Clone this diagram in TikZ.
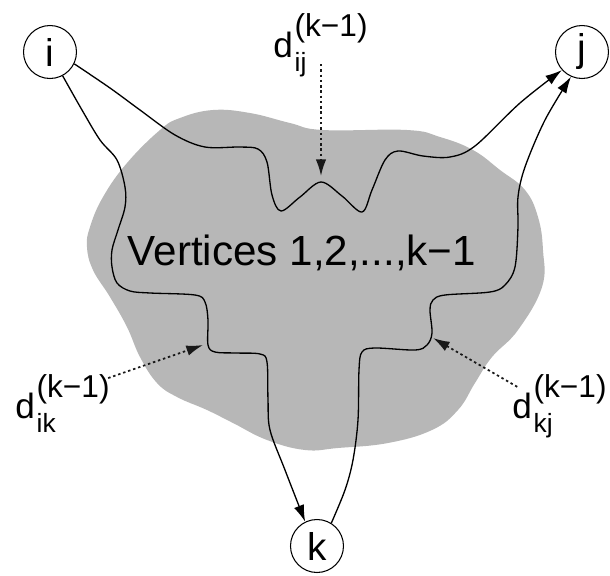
\documentclass[tikz,border=0pt]{standalone}
\usepackage{fontspec}
\setmainfont{Liberation Sans}
\usetikzlibrary{arrows.meta}
\definecolor{cloudgray}{RGB}{183,183,183}
\newcommand{\supsize}{\fontsize{18}{18}\selectfont}
\newcommand{\subsize}{\fontsize{15}{15}\selectfont}
\newcommand{\dlabel}[1]{d\kern1pt\rlap{\raisebox{-8pt}{\subsize #1}}\raisebox{11.5pt}{\supsize(k−1)}}

\begin{document}
\begin{tikzpicture}[x=0.02cm, y=-0.02cm, >={Latex[length=9.5pt,width=6pt]},
  vertex/.style={draw, circle, line width=0.6pt, minimum size=1.06cm, inner sep=0pt, font=\fontsize{22}{22}\selectfont},
  route/.style={->, line width=0.75pt},
  hint/.style={->, line width=1pt, dash pattern=on 1.4pt off 1.6pt, black!90},
  dist/.style={inner sep=0pt, anchor=base west, font=\fontsize{20}{24}\selectfont}]
  \useasboundingbox (0,0) rectangle (610,576);
  \fill[cloudgray] plot[smooth cycle, tension=0.7] coordinates {(213,110) (250,113) (290,123) (323,130) (407,130) (440,137) (473,150) (500,170) (525,190) (538,217) (543,250) (542,287) (518,330) (492,357) (475,383) (458,410) (432,430) (388,443) (338,448) (305,450) (267,440) (233,423) (207,410) (177,397) (157,383) (140,357) (127,327) (110,297) (93,270) (87,247) (90,227) (103,197) (127,163) (160,130) (180,118)};
  \node[vertex] (i) at (50,52) {i};
  \node[vertex] (j) at (582,52) {j};
  \node[vertex] (k) at (317,546) {k};
  \node[anchor=base, font=\fontsize{24}{28}\selectfont] (verts) at (302,265) {Vertices 1,2,...,k−1};
  \draw[route] plot[smooth, tension=0.55] coordinates {(i.-26) (110,88) (140,110) (175,135) (205,147) (240,147) (258,149) (267,162) (272,195) (281,211) (300,197) (321,182) (342,196) (362,212) (372,190) (385,160) (398,151) (423,156) (450,157) (475,146) (520,103) (j.222)};
  \draw[route] plot[smooth, tension=0.55] coordinates {(i.-62) (82,110) (100,140) (117,160) (125,187) (125,207) (118,230) (112,250) (112,267) (117,283) (130,291) (150,293) (195,295) (205,302) (208,320) (208,345) (215,352) (235,353) (260,354) (267,362) (268,400) (270,430) (285,470) (k.116)};
  \draw[route] plot[smooth, tension=0.55] coordinates {(k.58) (345,490) (353,460) (358,420) (359,370) (362,352) (375,348) (415,350) (427,345) (432,333) (430,310) (433,300) (445,295) (490,292) (505,285) (515,267) (518,227) (518,197) (525,167) (545,120) (j.246)};
  \node[dist] (dij) at (273,57) {\dlabel{ij}};
  \node[dist] (dik) at (15,418) {\dlabel{ik}};
  \node[dist] (dkj) at (512,418) {\dlabel{kj}};
  \coordinate (tipij) at (321,176);
  \coordinate (tipik) at (203,345);
  \coordinate (tipkj) at (433,338);
  \draw[hint] ([yshift=-4pt]dij.base -| tipij) -- (tipij);
  \draw[hint] ([shift={(-1pt,-2pt)}]dik.north east) -- (tipik);
  \draw[hint] ([shift={(3pt,-7pt)}]dkj.north west) -- (tipkj);
\end{tikzpicture}
\end{document}
